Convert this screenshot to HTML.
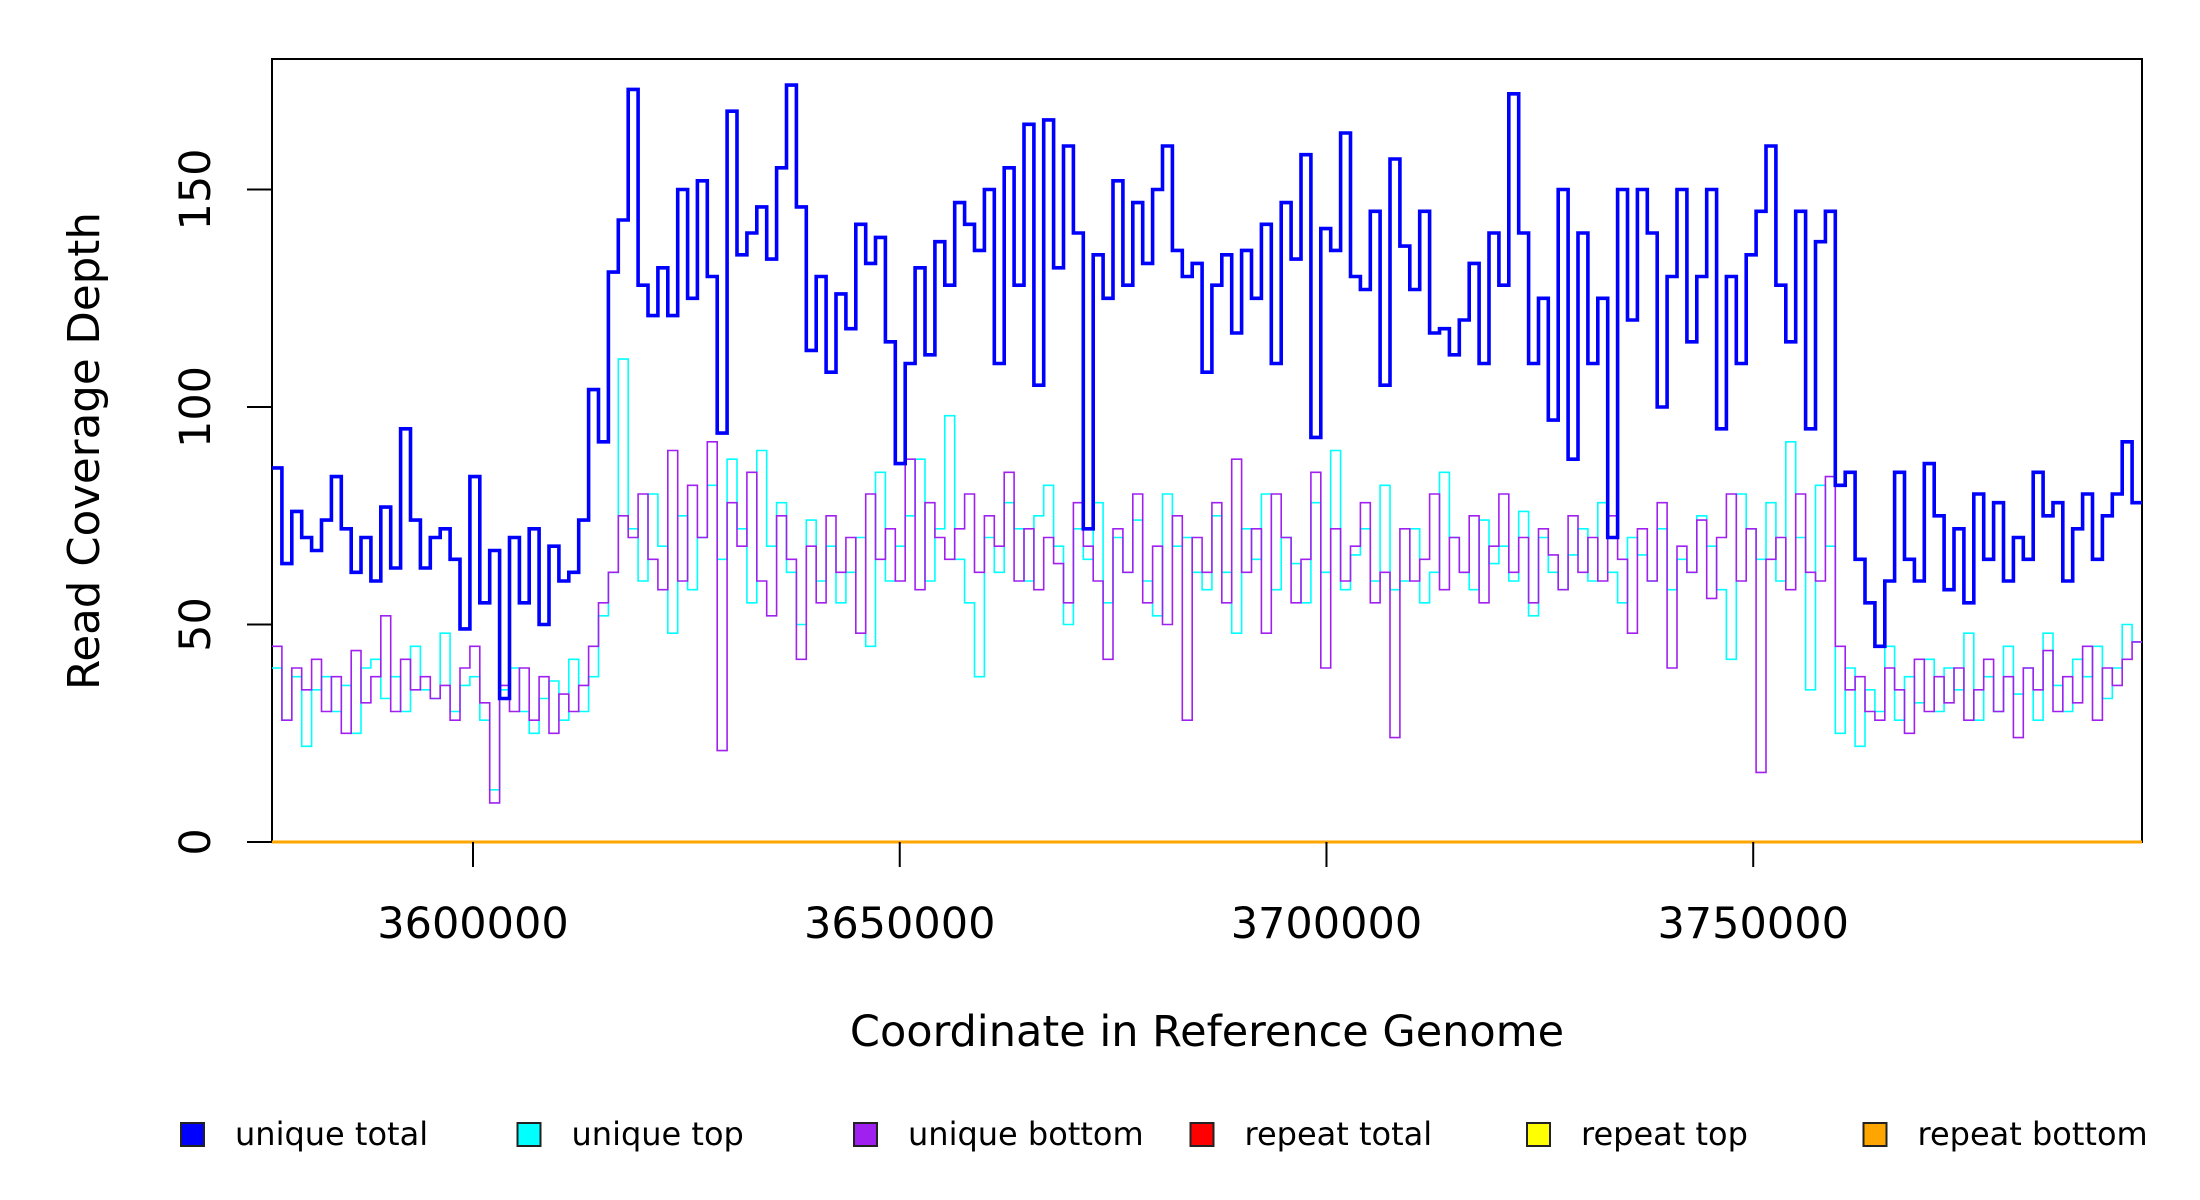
<!DOCTYPE html>
<html><head><meta charset="utf-8"><title>Read Coverage Depth</title>
<style>
html,body{margin:0;padding:0;background:#fff;}
svg{display:block;font-family:"DejaVu Sans","Liberation Sans",sans-serif;}
</style></head>
<body>
<svg id="chart" width="2200" height="1200" viewBox="0 0 2200 1200" xmlns="http://www.w3.org/2000/svg">
<rect x="0" y="0" width="2200" height="1200" fill="#fff"/>
<rect x="272" y="59" width="1870" height="783" fill="none" stroke="#000" stroke-width="2"/>
<g id="series"></g>
<g id="axes"></g>
<text x="0" y="0" transform="translate(99,451) rotate(-90)" text-anchor="middle" font-size="43.5" fill="#000">Read Coverage Depth</text>
<text x="1207" y="1046" text-anchor="middle" font-size="43" fill="#000">Coordinate in Reference Genome</text>
<g id="legend"></g>
</svg>
<script>
const xTicks = [3600000, 3650000, 3700000, 3750000];
const xTickLabels = ["3600000", "3650000", "3700000", "3750000"];
const yTicks = [0, 50, 100, 150];
const yTickLabels = ["0", "50", "100", "150"];
const xMin = 3576450, xMax = 3795553;
const yMin = 0, yMax = 180;
const seriesNames = ["unique total","unique top","unique bottom","repeat total","repeat top","repeat bottom"];
const seriesColors = ["#0000ff","#00ffff","#a020f0","#ff0000","#ffff00","#ffa500"];

const uniqueTotal = [
86,64,76,70,67,74,84,72,62,70,60,77,63,95,74,63,70,72,65,49,84,55,67,33,70,55,72,50,68,60,62,74,104,92,
131,143,173,128,121,132,121,150,125,152,
130,94,168,135,140,146,134,155,174,146,
113,130,108,126,118,142,133,139,115,87,
110,132,112,138,128,147,142,136,150,110,
155,128,165,105,166,132,160,140,72,135,
125,152,128,147,133,150,160,136,130,133,
108,128,135,117,136,125,142,110,147,134,
158,93,141,136,163,130,127,145,105,157,
137,127,145,117,118,112,120,133,110,140,
128,172,140,110,
125,97,150,88,140,110,125,70,150,120,150,140,100,130,150,115,130,150,95,130,110,135,145,160,128,115,145,95,138,145,
82,85,65,55,45,60,85,65,60,87,75,58,72,55,80,65,78,60,70,65,85,75,78,60,72,80,65,75,80,92,78
];
const uniqueTop = [
40,28,38,22,35,38,30,36,25,40,42,33,38,30,45,35,33,48,30,36,38,28,12,35,40,30,25,33,37,28,42,30,38,52,
62,111,72,60,80,68,48,75,58,70,
82,65,88,72,55,90,68,78,62,50,
74,60,68,55,62,70,45,85,60,68,
75,88,60,72,98,65,55,38,70,62,
78,72,60,75,82,68,50,72,65,78,
55,70,62,74,60,52,80,68,70,62,
58,75,62,48,72,65,80,58,70,64,
55,78,62,90,58,66,72,60,82,58,
60,72,55,62,85,70,62,58,74,64,
68,60,76,52,70,62,58,66,72,60,
78,62,55,70,66,60,72,58,65,62,
75,68,58,42,80,72,65,78,60,92,
70,35,82,68,
25,40,22,35,30,45,28,38,32,42,30,40,35,48,28,38,30,45,34,40,28,48,36,30,42,38,45,33,40,50,46
];
const uniqueBottom = [
45,28,40,35,42,30,38,25,44,32,38,52,30,42,35,38,33,36,28,40,45,32,9,36,30,40,28,38,25,34,30,36,45,55,
62,75,70,80,65,58,90,60,82,70,
92,21,78,68,85,60,52,75,65,42,
68,55,75,62,70,48,80,65,72,60,
88,58,78,70,65,72,80,62,75,68,
85,60,72,58,70,64,55,78,68,60,
42,72,62,80,55,68,50,75,28,70,
62,78,55,88,62,72,48,80,70,55,
65,85,40,72,60,68,78,55,62,24,
72,60,65,80,58,70,62,75,55,68,
80,62,70,55,72,66,58,75,62,70,
60,75,65,48,72,60,78,40,68,62,
74,56,70,80,60,72,16,65,70,58,
80,62,60,84,
45,35,38,30,28,40,35,25,42,30,38,32,40,28,35,42,30,38,24,40,35,44,30,38,32,45,28,40,36,42,46
];
const repeatTotal = [0,0,0,0,0,0,0,0,0,0];
const repeatTop = [0,0,0,0,0,0,0,0,0,0];
const repeatBottom = [0,0,0,0,0,0,0,0,0,0];

const NS = "http://www.w3.org/2000/svg";
const L = 272, R = 2142, T = 59, B = 842;
function xScale(v){ return L + (v - xMin) / (xMax - xMin) * (R - L); }
function yScale(v){ return B - (v - yMin) / (yMax - yMin) * (B - T); }

function stepPath(vals){
  const bin = (xMax - xMin) / vals.length;
  let d = "";
  for (let i = 0; i < vals.length; i++){
    const x0 = xScale(xMin + i * bin), x1 = xScale(xMin + (i + 1) * bin), y = yScale(vals[i]);
    d += (i === 0 ? "M" : "L") + x0.toFixed(1) + "," + y.toFixed(1) + "L" + x1.toFixed(1) + "," + y.toFixed(1);
  }
  return d;
}

const seriesLayer = document.getElementById("series");
const allSeries = [uniqueTotal, uniqueTop, uniqueBottom, repeatTotal, repeatTop, repeatBottom];
const widths = [3.6, 1.6, 1.6, 2.5, 2.5, 3];
const drawOrder = [1, 2, 0, 3, 4, 5];
drawOrder.forEach(function(k){
  const p = document.createElementNS(NS, "path");
  p.setAttribute("d", stepPath(allSeries[k]));
  p.setAttribute("fill", "none");
  p.setAttribute("stroke", seriesColors[k]);
  p.setAttribute("stroke-width", widths[k]);
  p.setAttribute("stroke-linejoin", "miter");
  
  
  seriesLayer.appendChild(p);
});

const axes = document.getElementById("axes");
xTicks.forEach(function(t, i){
  const x = xScale(t);
  const ln = document.createElementNS(NS, "line");
  ln.setAttribute("x1", x); ln.setAttribute("x2", x);
  ln.setAttribute("y1", B); ln.setAttribute("y2", B + 25);
  ln.setAttribute("stroke", "#000"); ln.setAttribute("stroke-width", "2");
  
  
  axes.appendChild(ln);
  const tx = document.createElementNS(NS, "text");
  tx.setAttribute("x", x); tx.setAttribute("y", 938);
  tx.setAttribute("text-anchor", "middle"); tx.setAttribute("font-size", "43");
  tx.textContent = xTickLabels[i];
  
  
  axes.appendChild(tx);
});
yTicks.forEach(function(t, i){
  const y = yScale(t);
  const ln = document.createElementNS(NS, "line");
  ln.setAttribute("x1", L - 25); ln.setAttribute("x2", L);
  ln.setAttribute("y1", y); ln.setAttribute("y2", y);
  ln.setAttribute("stroke", "#000"); ln.setAttribute("stroke-width", "2");
  
  
  axes.appendChild(ln);
  const tx = document.createElementNS(NS, "text");
  tx.setAttribute("x", 0); tx.setAttribute("y", 0);
  tx.setAttribute("transform", "translate(210," + y + ") rotate(-90)");
  tx.setAttribute("text-anchor", "middle"); tx.setAttribute("font-size", "43");
  tx.textContent = yTickLabels[i];
  
  
  axes.appendChild(tx);
});

const legend = document.getElementById("legend");
seriesNames.forEach(function(n, i){
  const bx = 181 + i * 336.5;
  const r = document.createElementNS(NS, "rect");
  r.setAttribute("x", bx); r.setAttribute("y", 1123);
  r.setAttribute("width", 23); r.setAttribute("height", 23);
  r.setAttribute("fill", seriesColors[i]); r.setAttribute("stroke", "#222"); r.setAttribute("stroke-width", "2");
  
  
  legend.appendChild(r);
  const tx = document.createElementNS(NS, "text");
  tx.setAttribute("x", bx + 54); tx.setAttribute("y", 1145);
  tx.setAttribute("font-size", "32");
  tx.textContent = n;
  
  
  legend.appendChild(tx);
});
</script>
</body></html>
